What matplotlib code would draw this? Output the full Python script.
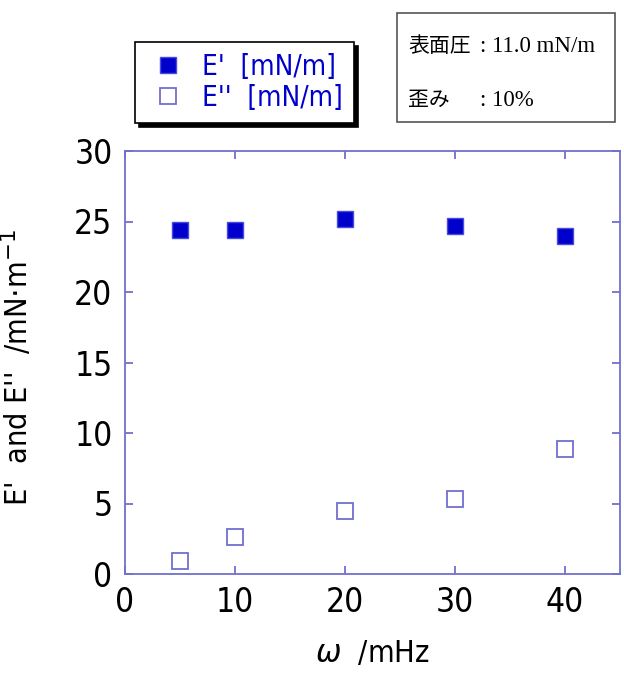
import numpy as np
import matplotlib.pyplot as plt
from matplotlib.patches import FancyBboxPatch

# データ
omega = [5, 10, 20, 30, 40]
e_storage = [24.4, 24.4, 25.2, 24.7, 23.95]
e_loss = [0.92, 2.6, 4.5, 5.3, 8.85]
xticks = [0, 10, 20, 30, 40]
yticks = [0, 5, 10, 15, 20, 25, 30]

frame_c = "#7070d0"
blue = "#0000cc"
narrow = ["DejaVu Sans", "Noto Sans CJK JP"]

W, H = 624, 690
fig = plt.figure(figsize=(6.24, 6.90), dpi=100)
ax = fig.add_axes([125 / W, 1 - 574 / H, 495 / W, 423 / H])

ax.plot(omega, e_storage, ls="none", marker="s", ms=12, mfc=blue, mec="#4a4ae0", mew=1.0,
        label="E'  [mN/m]")
ax.plot(omega, e_loss, ls="none", marker="s", ms=12, mfc="white", mec=frame_c, mew=1.3,
        label="E''  [mN/m]")

ax.set_xlim(0, 45)
ax.set_ylim(0, 30)
ax.set_xticks(xticks)
ax.set_yticks(yticks)
for s in ax.spines.values():
    s.set_color(frame_c)
    s.set_linewidth(1.3)
ax.tick_params(direction="in", length=6, width=1.3, color=frame_c, top=True, right=True,
               labelsize=24, pad=9)
for lab in ax.get_xticklabels() + ax.get_yticklabels():
    lab.set_family(narrow)
    lab.set_stretch("condensed")

ax.set_xlabel("$\\omega$  /mHz", fontsize=22, family=narrow, stretch="condensed", labelpad=14)
ax.set_ylabel("E'  and E''  /mN$\\cdot$m$^{-1}$", fontsize=22, family=narrow,
              stretch="condensed")
ax.yaxis.set_label_coords((34 - 125) / 495, 0.489)

# 凡例
leg = fig.legend(loc="upper left", bbox_to_anchor=(135 / W, 1 - 42 / H), frameon=True,
                 fancybox=False, shadow={"ox": 3, "oy": -3, "color": "black", "alpha": 1.0},
                 edgecolor="black", handletextpad=0.4, markerscale=1.0,
                 borderpad=0.4, labelspacing=0.1, handlelength=1.6, borderaxespad=0,
                 prop={"family": narrow, "stretch": "condensed", "size": 20})
for t in leg.get_texts():
    t.set_color(blue)
leg.get_frame().set_linewidth(1.2)

# 条件ボックス
box = FancyBboxPatch((397 / W, 1 - 122 / H), 218 / W, 109 / H, boxstyle="square,pad=0",
                     transform=fig.transFigure, fc="white", ec="#555555", lw=1.2)
fig.patches.append(box)
jp = ["Noto Sans CJK JP"]
serif = ["Liberation Serif"]
rows = [("表面圧", "11.0 mN/m", 46), ("歪み", "10%", 100)]
for head, val, py in rows:
    fig.text(408 / W, 1 - py / H, head, fontsize=15, family=jp, va="center")
    fig.text(480 / W, 1 - py / H, ": " + val, fontsize=16.5, family=serif, va="center")

fig.savefig("out.png", dpi=100)
